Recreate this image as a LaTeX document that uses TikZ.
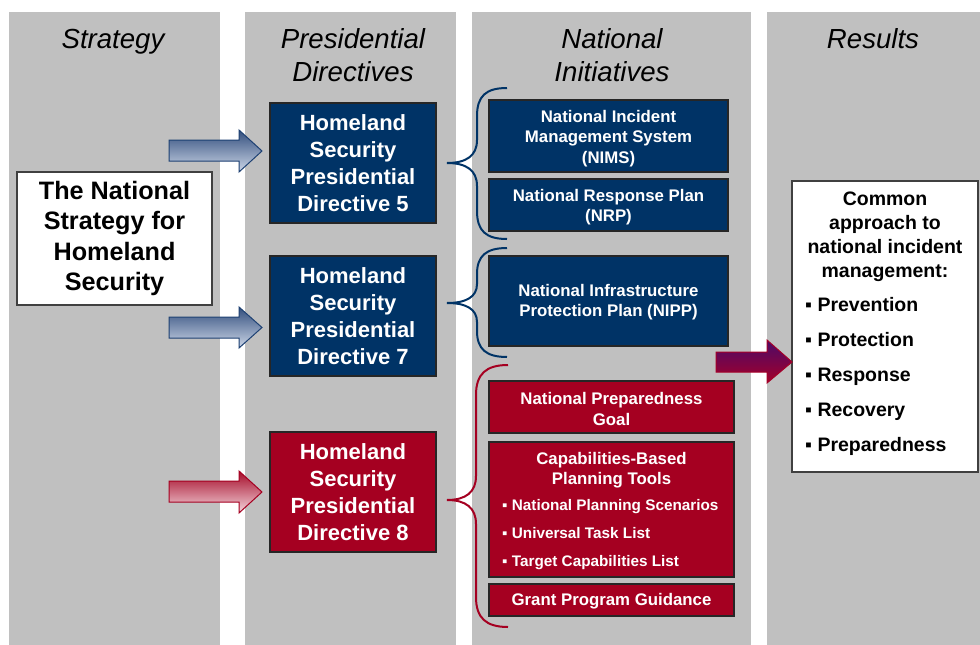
\documentclass[tikz,border=0pt]{standalone}
\usepackage{fontspec}
\setmainfont{Liberation Sans}
\definecolor{colbg}{RGB}{192,192,192}
\definecolor{navy}{RGB}{0,51,102}
\definecolor{crim}{RGB}{165,0,33}
\definecolor{arrblueT}{RGB}{50,78,125}
\definecolor{arrblueB}{RGB}{205,215,232}
\definecolor{arrblueD}{RGB}{30,65,115}
\definecolor{arrredT}{RGB}{165,10,40}
\definecolor{arrredB}{RGB}{245,215,222}
\definecolor{arrpurT}{RGB}{75,10,105}
\definecolor{arrpurB}{RGB}{165,0,40}
\tikzset{
  coltitle/.style={font=\fontsize{27.6}{33}\selectfont\itshape, align=center, text=black},
  boxline/.style={draw=black!85, line width=1.2pt, inner sep=0pt},
  dirbox/.style={boxline, text=white, align=center, font=\fontsize{22}{27}\selectfont\bfseries, minimum width=166pt, minimum height=120pt},
  navybox/.style={boxline, fill=navy, text=white, align=center, font=\fontsize{16.8}{20.5}\selectfont\bfseries},
  redbox/.style={boxline, fill=crim, text=white, align=center, font=\fontsize{16.8}{20.5}\selectfont\bfseries},
  bracenavy/.style={draw=navy, line width=2pt},
  bracered/.style={draw=crim, line width=2pt},
  bluearrow/.style={top color=arrblueT, bottom color=arrblueB, draw=arrblueD, line width=1pt},
  redarrow/.style={top color=arrredT, bottom color=arrredB, draw=crim, line width=1pt},
  purarrow/.style={top color=arrpurT, bottom color=arrpurB, draw=arrpurB, line width=1pt},
}
\begin{document}
\begin{tikzpicture}[x=1pt,y=-1pt]
\useasboundingbox (0,0) rectangle (980,645);
\fill[white] (0,0) rectangle (980,645);
% columns
\fill[colbg] (9,12) rectangle (220,645);
\fill[colbg] (245,12) rectangle (456,645);
\fill[colbg] (472,12) rectangle (751,645);
\fill[colbg] (767,12) rectangle (980,645);
% titles
\node[coltitle] (t1) at (113,41.5) {Strategy};
\node[coltitle] (t2) at (353,55.5) {Presidential\\Directives};
\node[coltitle] (t3) at (612,55.5) {National\\Initiatives};
\node[coltitle] (t4) at (873,39) {Results};
% strategy box
\node[boxline, draw=black!75, fill=white, text=black, align=center,
      font=\fontsize{25.2}{30.5}\selectfont\bfseries,
      minimum width=195pt, minimum height=133pt] (strat) at (114.5,238.5)
  {The National\\Strategy for\\Homeland\\Security};
% directives
\node[dirbox, fill=navy] (hs5) at (353,163) {Homeland\\Security\\Presidential\\Directive 5};
\node[dirbox, fill=navy] (hs7) at (353,316) {Homeland\\Security\\Presidential\\Directive 7};
\node[dirbox, fill=crim] (hs8) at (353,492) {Homeland\\Security\\Presidential\\Directive 8};
% initiatives (boxes, then their texts)
\node[navybox, minimum width=239pt, minimum height=72pt] (nims) at (608.5,136) {};
\node[navybox, draw=none, fill=none] (nimst) at (608.5,138.5)
  {National Incident\\Management System\\(NIMS)};
\node[navybox, minimum width=239pt, minimum height=52pt] (nrp) at (608.5,205) {};
\node[navybox, draw=none, fill=none] (nrpt) at (608.5,207)
  {National Response Plan\\(NRP)};
\node[navybox, minimum width=239pt, minimum height=90pt] (nipp) at (608.5,301) {};
\node[navybox, draw=none, fill=none] (nippt) at (608.5,302)
  {National Infrastructure\\Protection Plan (NIPP)};
\node[redbox, minimum width=245pt, minimum height=52pt] (npg) at (611.5,407) {};
\node[redbox, draw=none, fill=none] (npgt) at (611.5,409)
  {National Preparedness\\Goal};
\node[redbox, minimum width=245pt, minimum height=135pt] (cbpt) at (611.5,509.5) {};
\node[text=white, align=center, font=\fontsize{16.8}{20.5}\selectfont\bfseries] (cbhead) at (611.5,470)
  {Capabilities-Based\\Planning Tools};
\node[text=white, align=left, anchor=west, inner sep=0pt, font=\fontsize{15.3}{28}\selectfont\bfseries] (cblist) at (502,535)
  {▪ National Planning Scenarios\\▪ Universal Task List\\▪ Target Capabilities List};
\node[redbox, minimum width=245pt, minimum height=32pt] (gpg) at (611.5,600) {};
\node[redbox, draw=none, fill=none] (gpgt) at (611.5,601.5) {Grant Program Guidance};
% results
\node[boxline, draw=black!75, fill=white, minimum width=186pt, minimum height=291pt] (res) at (885,326.5) {};
\node[align=center, font=\fontsize{19.5}{24}\selectfont\bfseries] (reshead) at (885,236.5)
  {Common\\approach to\\national incident\\management:};
\node[align=left, anchor=west, inner sep=0pt, font=\fontsize{19.5}{35}\selectfont\bfseries] (reslist) at (805,376)
  {▪ Prevention\\▪ Protection\\▪ Response\\▪ Recovery\\▪ Preparedness};
% block arrows
\shade[bluearrow] (169,140) -- (239,140) -- (239,130) -- (262,151) -- (239,172) -- (239,161) -- (169,161) -- cycle;
\shade[bluearrow] (169,317) -- (239,317) -- (239,307) -- (262,327.5) -- (239,348) -- (239,338) -- (169,338) -- cycle;
\shade[redarrow] (169,481) -- (239,481) -- (239,471) -- (262,492) -- (239,513) -- (239,502) -- (169,502) -- cycle;
\shade[purarrow] (716,352) -- (767,352) -- (767,340) -- (792,362) -- (767,383) -- (767,372) -- (716,372) -- cycle;
% braces
\draw[bracenavy] (507,88) .. controls (486,88) and (477,96) .. (477,116) -- (477,140)
  .. controls (477,156) and (466,163) .. (447,163)
  .. controls (466,163) and (477,170) .. (477,186) -- (477,211)
  .. controls (477,231) and (486,239) .. (507,239);
\draw[bracenavy] (507,248) .. controls (486,248) and (477,256) .. (477,274) -- (477,284)
  .. controls (477,297) and (466,303) .. (447,303)
  .. controls (466,303) and (477,309) .. (477,322) -- (477,331)
  .. controls (477,349) and (486,357) .. (507,357);
\draw[bracered] (508,365) .. controls (486,365) and (476,374) .. (476,395) -- (476,476)
  .. controls (476,492) and (466,500) .. (447,500)
  .. controls (466,500) and (476,508) .. (476,524) -- (476,597)
  .. controls (476,618) and (486,627) .. (508,627);
\end{tikzpicture}
\end{document}
